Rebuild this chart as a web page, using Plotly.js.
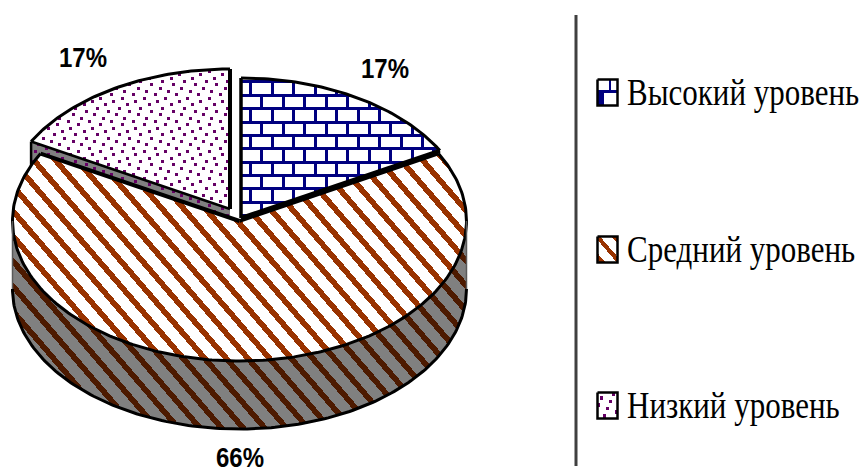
<!DOCTYPE html>
<html>
<head>
<meta charset="utf-8">
<script src="https://cdn.plot.ly/plotly-3.0.1.min.js"></script>
<style>html,body{margin:0;padding:0;background:#fff}#chart{width:865px;height:468px}</style>
</head>
<body>
<div id="chart"></div>
<script>
// Distribution by level
const categories = ['Высокий уровень', 'Средний уровень', 'Низкий уровень'];
const shares = [17, 66, 17];

// Pie geometry in screen-sized axis units
const RX = 227, RY = 140, DEPTH = 68;
const centres = [[241, 218], [239.5, 221], [230, 209]];
const INK = '#000', WALL = '#808080';
const faceColors = ['#000080', '#993300', '#660066'];
const wallColors = ['#000040', '#4d1a00', '#660066'];

// Slice angular ranges, clockwise from twelve o'clock
const total = shares.reduce((a, b) => a + b, 0);
let acc = 0;
const spans = shares.map(v => { const s = [acc, acc + v / total * 360]; acc = s[1]; return s; });

const pt = (c, deg, dy = 0) => {
  const r = deg * Math.PI / 180;
  return [c[0] + RX * Math.sin(r), c[1] - RY * Math.cos(r) + dy];
};
function arc(c, a0, a1, dy = 0) {
  const out = [], n = Math.max(2, Math.ceil(Math.abs(a1 - a0)));
  for (let i = 0; i <= n; i++) out.push(pt(c, a0 + (a1 - a0) * i / n, dy));
  return out;
}
const xs = p => p.map(q => q[0]);
const ys = p => p.map(q => q[1]);

// Hatch predicates
const mod = (a, b) => ((a % b) + b) % b;
const bricks = (x, y) => {
  const row = Math.floor((y - 80.5) / 13.35);
  if (mod(y - 80.5, 13.35) < 3) return true;
  return mod(x - 249.5 + (mod(row, 2) ? 10.75 : 0), 21.5) < 3;
};
const stripes = (x, y) => mod(x - y / 1.16, 21.6) < 7.5;
const dotOffsets = [14, 6, 19.3, 8.3, 16.7, 3.3, 11.7, 0.7];
const dots = (x, y) => {
  const row = Math.floor((y - 100) / 3.34);
  return mod(y - 100, 3.34) < 3 && mod(x - 98.5 - dotOffsets[mod(row, 8)], 21.7) < 3;
};

// Region predicates
const inSlice = i => (x, y) => {
  const u = (x - centres[i][0]) / RX, v = (y - centres[i][1]) / RY;
  if (u * u + v * v > 1) return false;
  const a = mod(Math.atan2(u, -v) * 180 / Math.PI, 360);
  return a >= spans[i][0] && a <= spans[i][1];
};
const inFrontWall = (x, y) => {
  const c = centres[1], u = (x - c[0]) / RX;
  if (Math.abs(u) > 1) return false;
  const h = RY * Math.sqrt(1 - u * u);
  return y >= c[1] + h && y <= c[1] + h + DEPTH;
};
const inPoly = poly => (x, y) => {
  let hit = false;
  for (let i = 0, j = poly.length - 1; i < poly.length; j = i++) {
    const [xi, yi] = poly[i], [xj, yj] = poly[j];
    if ((yi > y) !== (yj > y) && x < (xj - xi) * (y - yi) / (yj - yi) + xi) hit = !hit;
  }
  return hit;
};

// Emit a texture as horizontal pixel runs, one per scan row
function texture(region, pattern, color, box) {
  const X = [], Y = [];
  for (let y = box[1]; y < box[3]; y++) {
    let start = null;
    for (let x = box[0]; x <= box[2]; x++) {
      const on = x < box[2] && region(x + .5, y + .5) && pattern(x + .5, y + .5);
      if (on && start === null) start = x;
      if (!on && start !== null) {
        X.push(start, x, null); Y.push(y + .5, y + .5, null);
        start = null;
      }
    }
  }
  return { x: X, y: Y, mode: 'lines', line: { color, width: 1, simplify: false }, hoverinfo: 'skip', connectgaps: false };
}
const filled = (p, color) => ({ x: xs(p), y: ys(p), mode: 'lines', fill: 'toself', fillcolor: color, line: { width: 0 }, hoverinfo: 'skip' });
const stroke = (p, width = 3, color = INK) => ({ x: xs(p), y: ys(p), mode: 'lines', line: { color, width }, hoverinfo: 'skip' });

const traces = [];

// Side wall of the large slice
const wallTop = arc(centres[1], 90, 270);
const wallBottom = arc(centres[1], 270, 90, DEPTH);
traces.push(filled([...wallTop, ...wallBottom, wallTop[0]], WALL));
traces.push(texture(inFrontWall, stripes, wallColors[1], [0, 200, 480, 440]));

// Exposed cut walls of the two small slices
const lowEnd = pt(centres[2], spans[2][0]);
const lowApex = centres[2];
const lowWall = [lowEnd, lowApex, [lowApex[0], lowApex[1] + DEPTH], [lowEnd[0], lowEnd[1] + DEPTH], lowEnd];
traces.push(filled(lowWall, WALL));
traces.push(texture(inPoly(lowWall), dots, wallColors[2], [20, 130, 240, 290]));
traces.push(stroke([lowEnd, [lowEnd[0], lowEnd[1] + DEPTH]], 2.5));

const highEnd = pt(centres[0], spans[0][1]);
const highWall = [centres[0], highEnd, [highEnd[0], highEnd[1] + DEPTH], [centres[0][0], centres[0][1] + DEPTH], centres[0]];
traces.push(filled(highWall, INK));

// Top faces
const order = [1, 0, 2];
const boxes = { 0: [235, 70, 445, 225], 1: [5, 140, 475, 370], 2: [25, 60, 235, 215] };
const patterns = [bricks, stripes, dots];
order.forEach(i => {
  const c = centres[i];
  const rim = arc(c, spans[i][0], spans[i][1]);
  traces.push(filled([c, ...rim, c], '#fff'));
  traces.push(texture(inSlice(i), patterns[i], faceColors[i], boxes[i]));
  traces.push(stroke(rim, 3));
  traces.push(stroke([rim[0], c], i === 2 ? 2.6 : 3.5));
  traces.push(stroke([c, rim[rim.length - 1]], 4));
});

// Lower rim of the wall, with faint vertical ends
traces.push(stroke(arc(centres[1], 90, 270, DEPTH), 3));
traces.push(stroke([wallTop[0], pt(centres[1], 90, DEPTH)], 1.5, '#595959'));
traces.push(stroke([wallTop[wallTop.length - 1], pt(centres[1], 270, DEPTH)], 1.5, '#595959'));

// Legend swatches
const swatchRows = [79.5, 236.5, 392.5];
const SW = 20, SH = 26, SX = 597.5;
const swatchFill = [
  (x, y) => { const u = x - SX, v = y - swatchRows[0]; return Math.abs(v - 12) < 1.5 || (u > 11 && u < 14 && v < 12) || (u < 7 && v > 12 && v < SH); },
  (x, y) => mod(x - y / 1.16 - SX + swatchRows[1] / 1.16 + 3, 17) < 5.5,
  (x, y) => { const u = Math.floor((x - SX) / 3), v = Math.floor((y - swatchRows[2]) / 3.6); return (u * 3 + v * 5) % 7 === 1; }
];
categories.forEach((name, i) => {
  const y = swatchRows[i];
  const box = [[SX, y], [SX + SW, y], [SX + SW, y + SH], [SX, y + SH], [SX, y]];
  traces.push(filled(box, '#fff'));
  traces.push(texture((a, b) => a > SX && a < SX + SW && b > y && b < y + SH, swatchFill[i], faceColors[i], [597, Math.floor(y), 618, Math.ceil(y + SH)]));
  traces.push(stroke(box, 2.5));
});
traces.forEach(t => t.showlegend = false);

// Percentage labels and legend captions
const percentAnchors = [[385, 68], [240, 457], [83, 57]];
const captionRows = [91, 248, 404];
const annotations = [
  ...shares.map((v, i) => ({
    x: percentAnchors[i][0], y: percentAnchors[i][1], text: v + '%', showarrow: false,
    xanchor: 'center', yanchor: 'middle',
    font: { family: 'Liberation Sans, Arial, sans-serif', size: 24, color: '#000', weight: 700 }
  })),
  ...categories.map((name, i) => ({
    x: 625, y: captionRows[i], text: name, showarrow: false, xanchor: 'left', yanchor: 'middle',
    font: { family: 'Liberation Serif, Times New Roman, serif', size: 31, color: '#000' }
  }))
];

const axis = { visible: false, fixedrange: true, autorange: false, zeroline: false, showgrid: false };
Plotly.newPlot('chart', traces, {
  width: 865, height: 468, autosize: false,
  margin: { l: 0, r: 0, t: 0, b: 0, pad: 0 },
  paper_bgcolor: '#fff', plot_bgcolor: '#fff', showlegend: false,
  xaxis: { ...axis, range: [0, 865] },
  yaxis: { ...axis, range: [468, 0] },
  annotations,
  shapes: [{ type: 'line', x0: 576, x1: 576, y0: 15, y1: 466, line: { color: '#404040', width: 3 } }]
}, { displayModeBar: false, staticPlot: true }).then(gd => {
  // The chart's lettering is tall and narrow: stretch each label vertically about its centre
  const sy = [1.17, 1.17, 1.17, 1.24, 1.24, 1.24];
  gd.querySelectorAll('.annotation-text-g text').forEach((t, i) => {
    const b = t.getBBox(), cy = b.y + b.height / 2;
    t.setAttribute('transform', `translate(0 ${cy}) scale(1 ${sy[i]}) translate(0 ${-cy})`);
  });
});
</script>
</body>
</html>
